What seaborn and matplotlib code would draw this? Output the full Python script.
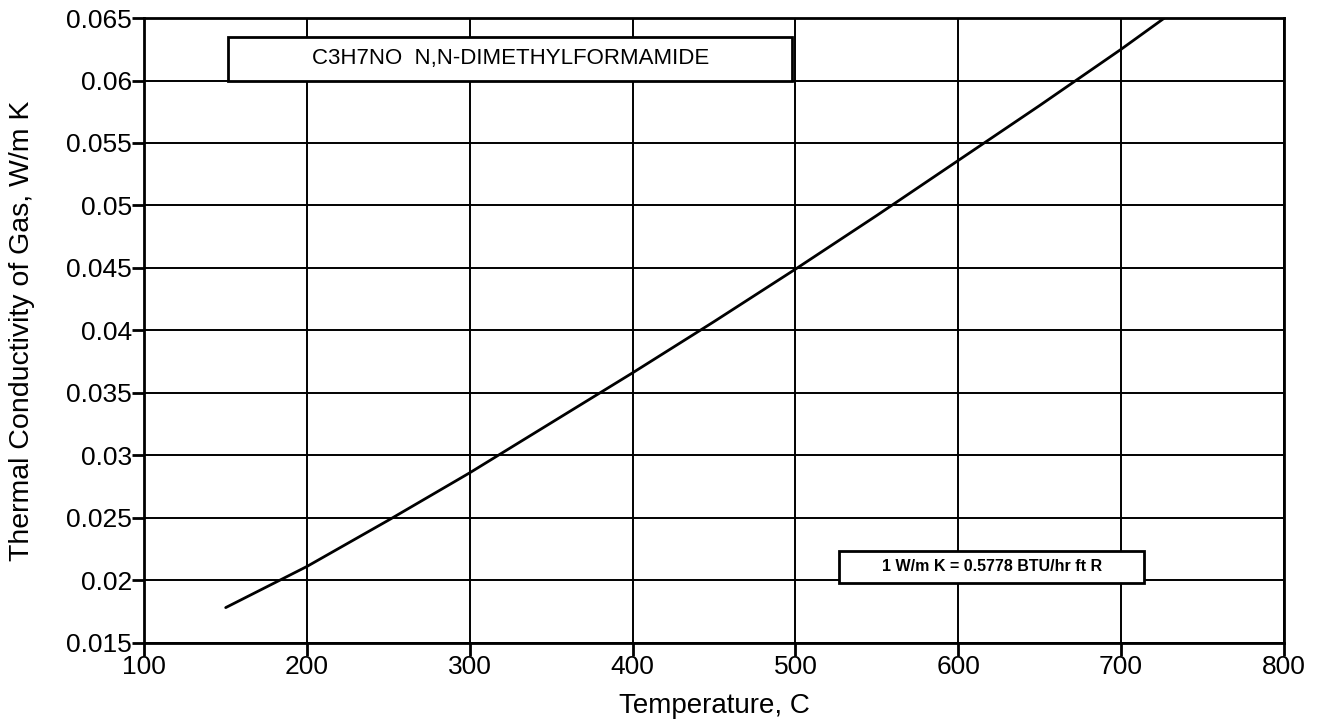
import matplotlib
matplotlib.use("Agg")
import matplotlib.pyplot as plt
import seaborn as sns
import pandas as pd
from matplotlib.patches import Rectangle

temperature = [150, 200, 250, 300, 350, 400, 450, 500, 550, 600, 650, 700, 750]
conductivity = [0.0178, 0.0211, 0.0248, 0.0286, 0.0326, 0.0366, 0.0407, 0.0449,
                0.0492, 0.0536, 0.0580, 0.0625, 0.0672]
x_ticks = [100, 200, 300, 400, 500, 600, 700, 800]
y_ticks = [0.015, 0.02, 0.025, 0.03, 0.035, 0.04, 0.045, 0.05, 0.055, 0.06, 0.065]
y_tick_labels = ["0.015", "0.02", "0.025", "0.03", "0.035", "0.04", "0.045",
                 "0.05", "0.055", "0.06", "0.065"]
title_text = "C3H7NO  N,N-DIMETHYLFORMAMIDE"
note_text = "1 W/m K = 0.5778 BTU/hr ft R"

sns.set_theme(style="white")
plt.rcParams['font.family'] = ['Liberation Sans', 'DejaVu Sans']
plt.rcParams['text.color'] = 'black'
plt.rcParams['axes.labelcolor'] = 'black'
plt.rcParams['xtick.color'] = 'black'
plt.rcParams['ytick.color'] = 'black'

df = pd.DataFrame({"T": temperature, "k": conductivity})
fig = plt.figure(figsize=(13.36, 7.22), dpi=100)
ax = fig.add_axes([0.108, 0.11, 0.853, 0.865])

sns.lineplot(data=df, x="T", y="k", ax=ax, color="black", linewidth=2)

ax.set_xlim(100, 800)
ax.set_ylim(0.015, 0.065)
ax.set_xticks(x_ticks)
ax.set_xticklabels([str(v) for v in x_ticks])
ax.set_yticks(y_ticks)
ax.set_yticklabels(y_tick_labels)
ax.grid(True, color="black", linewidth=1.4)
ax.set_axisbelow(True)
for s in ax.spines.values():
    s.set_color("black")
    s.set_linewidth(2)
ax.tick_params(axis="both", direction="out", length=9, width=2, color="black",
               labelcolor="black", labelsize=19, pad=0, bottom=True, left=True)
ax.set_xlabel("Temperature, C", fontsize=20, labelpad=10, color="black")
ax.set_ylabel("Thermal Conductivity of Gas, W/m K", fontsize=20.5, labelpad=22,
              color="black")

# Title box
ax.add_patch(Rectangle((151.5, 0.0600), 346.5, 0.0035, facecolor="white",
                       edgecolor="black", linewidth=2, zorder=5))
ax.text(325, 0.06175, title_text, ha="center", va="center", fontsize=16,
        color="black", zorder=6)
# Note box
ax.add_patch(Rectangle((527, 0.0198), 187, 0.00256, facecolor="white",
                       edgecolor="black", linewidth=2, zorder=5))
ax.text(620.5, 0.02108, note_text, ha="center", va="center", fontsize=11.5,
        fontweight="bold", color="black", zorder=6)

fig.savefig("out.png", dpi=100, facecolor="white")
